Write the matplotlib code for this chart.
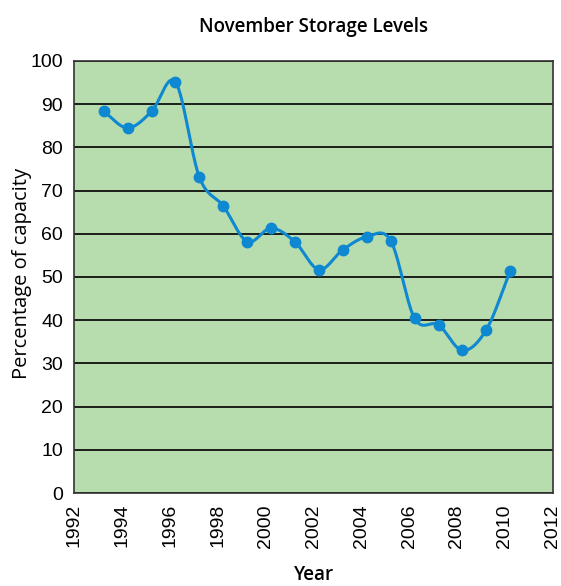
import numpy as np
import matplotlib
matplotlib.use("Agg")
import matplotlib.pyplot as plt

years = [1993, 1994, 1995, 1996, 1997, 1998, 1999, 2000, 2001, 2002,
         2003, 2004, 2005, 2006, 2007, 2008, 2009, 2010]
year_offset = 0.23
storage = [88.3, 84.5, 88.3, 95.1, 73.1, 66.4, 58.2, 61.3, 58.1, 51.7,
           56.3, 59.3, 58.4, 40.4, 38.9, 33.0, 37.8, 51.4]
xticks = list(range(1992, 2013, 2))
yticks = list(range(0, 101, 10))

GREEN = "#b7dcae"
BLUE = "#0e88d0"


def catmull_rom(x, y, n=30):
    x = np.asarray(x, float)
    y = np.asarray(y, float)
    px = np.concatenate([[2 * x[0] - x[1]], x, [2 * x[-1] - x[-2]]])
    py = np.concatenate([[2 * y[0] - y[1]], y, [2 * y[-1] - y[-2]]])
    xs, ys = [], []
    t = np.linspace(0, 1, n, endpoint=False)
    for i in range(1, len(px) - 2):
        for arr, out in ((px, xs), (py, ys)):
            p0, p1, p2, p3 = arr[i - 1], arr[i], arr[i + 1], arr[i + 2]
            out.extend(0.5 * ((2 * p1) + (-p0 + p2) * t
                              + (2 * p0 - 5 * p1 + 4 * p2 - p3) * t ** 2
                              + (-p0 + 3 * p1 - 3 * p2 + p3) * t ** 3))
    xs.append(x[-1])
    ys.append(y[-1])
    return np.array(xs), np.array(ys)


fig = plt.figure(figsize=(5.61, 5.86), dpi=100)
ax = fig.add_axes([0.1325, 0.1587, 0.8525, 0.7373])
ax.set_facecolor(GREEN)

xdata = np.array(years) + year_offset
sx, sy = catmull_rom(xdata, storage)
ax.plot(sx, sy, color=BLUE, lw=2.2, zorder=3, solid_capstyle="round")
ax.plot(xdata, storage, "o", color=BLUE, ms=7.5, zorder=4)

ax.set_xlim(1992, 2012)
ax.set_ylim(0, 100)
ax.set_xticks(xticks)
ax.set_yticks(yticks)
ax.set_xticklabels([str(v) for v in xticks], rotation=90,
                   family="Liberation Sans", fontsize=14)
ax.set_yticklabels([str(v) for v in yticks],
                   family="Liberation Sans", fontsize=14)
ax.tick_params(length=0, pad=8)
ax.yaxis.grid(True, color="black", lw=1.2, zorder=1)
ax.set_axisbelow(True)
for sp in ax.spines.values():
    sp.set_color("#333333")
    sp.set_linewidth(1.2)

fig.text(0.559, 0.954, "November Storage Levels", ha="center", va="center",
         family="Open Sans", fontsize=13.5, fontweight="semibold")
fig.text(0.559, 0.0015, "Year", ha="center", va="bottom",
         family="Open Sans", fontsize=13.5, fontweight="semibold")
fig.text(0.040, 0.533, "Percentage of capacity", ha="center", va="center",
         rotation=90, family="Open Sans", fontsize=14.5, fontweight="medium")

fig.savefig("out.png", dpi=100)
